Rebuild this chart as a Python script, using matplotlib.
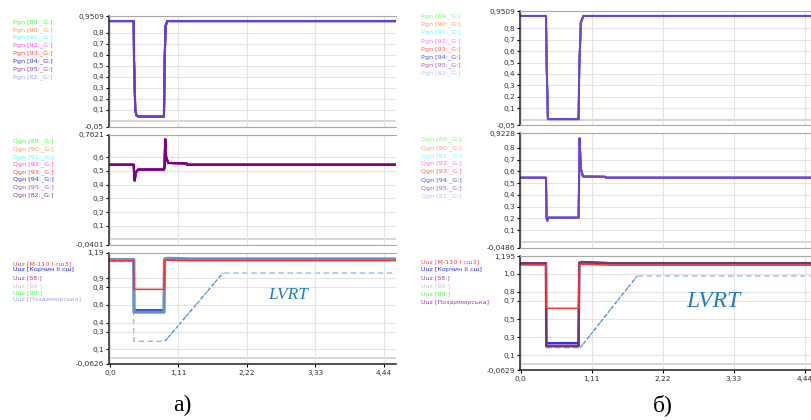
import matplotlib
matplotlib.use("Agg")
import matplotlib.pyplot as plt

# ---- data: panel a) ----
t_pa = [0, 0.385, 0.39, 0.41, 0.43, 0.46, 0.875, 0.885, 0.90, 0.93, 4.7]
p_a = [0.905, 0.905, 0.55, 0.10, 0.05, 0.04, 0.04, 0.50, 0.86, 0.905, 0.905]

t_qa = [0, 0.385, 0.39, 0.40, 0.42, 0.46, 0.875, 0.885, 0.895, 0.91, 0.945, 1.24, 1.25, 4.7]
q_a = [0.545, 0.545, 0.50, 0.43, 0.49, 0.51, 0.51, 0.53, 0.73, 0.60, 0.558, 0.555, 0.545, 0.545]

t_ua = [0, 0.385, 0.39, 0.875, 0.885, 0.93, 1.30, 4.7]
u_a_red = [1.098, 1.098, 0.776, 0.776, 1.10, 1.105, 1.10, 1.10]
u_a_blue = [1.108, 1.108, 0.54, 0.54, 1.115, 1.12, 1.115, 1.115]
u_a_pur = [1.108, 1.108, 0.54, 0.54, 1.115, 1.12, 1.115, 1.115]
u_a_grey = [1.108, 1.108, 0.53, 0.53, 1.115, 1.12, 1.115, 1.115]
u_a_green = [1.112, 1.112, 0.525, 0.525, 1.12, 1.13, 1.12, 1.12]
u_a_pozd = [1.11, 1.11, 0.52, 0.52, 1.115, 1.125, 1.118, 1.118]

lvrt_ta = [0, 0.385, 0.385, 0.89, 1.83, 4.7]
lvrt_a = [1.09, 1.09, 0.19, 0.19, 0.96, 0.96]

# ---- data: panel б) ----
t_pb = [0, 0.395, 0.405, 0.425, 0.905, 0.915, 0.94, 0.98, 4.6]
p_b = [0.908, 0.908, 0.50, 0.005, 0.005, 0.45, 0.85, 0.908, 0.908]

t_qb = [0, 0.395, 0.405, 0.415, 0.435, 0.905, 0.912, 0.92, 0.94, 0.975, 1.32, 1.33, 4.6]
q_b = [0.545, 0.545, 0.20, 0.18, 0.205, 0.205, 0.50, 0.88, 0.62, 0.555, 0.553, 0.545, 0.545]

t_ub = [0, 0.395, 0.40, 0.905, 0.915, 0.95, 1.40, 4.6]
u_b_red = [1.097, 1.097, 0.618, 0.618, 1.10, 1.105, 1.095, 1.095]
u_b_blue = [1.11, 1.11, 0.235, 0.235, 1.115, 1.125, 1.115, 1.115]
u_b_pur = [1.112, 1.112, 0.21, 0.21, 1.118, 1.125, 1.115, 1.115]
u_b_grey = [1.112, 1.112, 0.205, 0.205, 1.118, 1.125, 1.115, 1.115]
u_b_green = [1.115, 1.115, 0.20, 0.20, 1.12, 1.132, 1.118, 1.118]
u_b_pozd = [1.115, 1.115, 0.20, 0.20, 1.12, 1.128, 1.116, 1.116]

lvrt_tb = [0, 0.40, 0.40, 0.93, 1.82, 4.6]
lvrt_b = [1.10, 1.10, 0.183, 0.183, 0.975, 0.975]

# ---- legends / ticks ----
pgn_a_names = ["Pgn [89:_G:]", "Pgn [90:_G:]", "Pgn [91:_G:]", "Pgn [92:_G:]",
               "Pgn [93:_G:]", "Pgn [94:_G:]", "Pgn [95:_G:]", "Pgn [82:_G:]"]
qgn_a_names = [n.replace("Pgn", "Qgn") for n in pgn_a_names]
uuz_names = ["Uuz [M-110 I сш3]", "Uuz [Корчин II сш]", "Uuz [88:]",
             "Uuz [89:]", "Uuz [90:]", "Uuz [Поздимирська]"]
gen_cols_a = ["#3cff3c", "#ff9640", "#40ffff", "#ff40ff", "#ff4040", "#3030ff", "#9a3c9a", "#a0a0ff"]
qgen_cols_a = ["#3cff3c", "#ff9640", "#40ffff", "#ff40ff", "#ff4040", "#3030ff", "#a050a0", "#8040a0"]
gen_cols_b = ["#70ff70", "#ffa060", "#60ffff", "#ff70ff", "#ff6060", "#5050ff", "#a060b0", "#c0c0ff"]
uuz_cols_a = ["#ff4040", "#2020ff", "#a040a0", "#c8c8c8", "#40ff40", "#a0a0ff"]
uuz_cols_b = ["#ff4040", "#3030ff", "#a040a0", "#c8c8c8", "#40ff40", "#a040b0"]

yt_a1 = [-0.05, 0.1, 0.2, 0.3, 0.4, 0.5, 0.6, 0.7, 0.8, 0.9509]
yt_a2 = [-0.0401, 0.1, 0.2, 0.3, 0.4, 0.5, 0.6, 0.7621]
yt_a3 = [-0.0626, 0.1, 0.3, 0.4, 0.6, 0.8, 0.9, 1.19]
yt_b1 = [-0.05, 0.1, 0.2, 0.3, 0.4, 0.5, 0.6, 0.7, 0.8, 0.9509]
yt_b2 = [-0.0486, 0.1, 0.2, 0.3, 0.4, 0.5, 0.6, 0.7, 0.8, 0.9228]
yt_b3 = [-0.0629, 0.1, 0.3, 0.5, 0.7, 0.8, 1.0, 1.195]
xt = [0.0, 1.11, 2.22, 3.33, 4.44]
xt_labels = ["0,0", "1,11", "2,22", "3,33", "4,44"]


def lab(v):
    s = ("%.4f" % v).rstrip("0")
    if s.endswith("."):
        s += "0"
    return s.replace(".", ",")


fig = plt.figure(figsize=(8.12, 4.2), dpi=100)


def setup(rect, yt, xlim, bottom=False):
    ax = fig.add_axes(rect)
    ax.set_xlim(*xlim)
    ax.set_ylim(yt[0], yt[-1])
    ax.set_yticks(yt)
    ax.set_yticklabels([lab(v) for v in yt])
    ax.set_xticks(xt)
    ax.grid(True, color="#e4e4e4", lw=0.8)
    ax.axhline(0, color="#cfcfcf", lw=1.2, zorder=0.5)
    for s in ["top", "bottom"]:
        ax.spines[s].set_color("#a8a8a8")
    ax.spines["right"].set_visible(False)
    ax.spines["left"].set_color("#222222")
    ax.spines["left"].set_linewidth(1.1)
    ax.tick_params(axis="y", length=2.5, width=0.8, labelsize=5.3, pad=1, labelcolor="#333333")
    if bottom:
        ax.spines["bottom"].set_color("#222222")
        ax.spines["bottom"].set_linewidth(1.1)
        ax.set_xticklabels(xt_labels)
        ax.tick_params(axis="x", length=2.5, width=0.8, labelsize=5.3, pad=2, labelcolor="#333333")
    else:
        ax.tick_params(axis="x", length=0, labelbottom=False)
    return ax


def legend(x, ys, names, cols):
    for y, n, c in zip(ys, names, cols):
        fig.text(x / 812, 1 - y / 420, n, color=c, fontsize=4.6, va="center", ha="left")


xa = (-0.016, 4.634)
xb = (-0.011, 4.554)
a1 = setup([0.1342, 0.6988, 0.3534, 0.2631], yt_a1, xa)
a2 = setup([0.1342, 0.4167, 0.3534, 0.2619], yt_a2, xa)
a3 = setup([0.1342, 0.1340, 0.3534, 0.2645], yt_a3, xa, bottom=True)
b1 = setup([0.6404, 0.7014, 0.3596, 0.2724], yt_b1, xb)
b2 = setup([0.6404, 0.4107, 0.3596, 0.2719], yt_b2, xb)
b3 = setup([0.6404, 0.1190, 0.3596, 0.2714], yt_b3, xb, bottom=True)

# P, Q lines (all generators follow the same trajectory)
for i, c in enumerate(gen_cols_a):
    a1.plot(t_pa, p_a, color=c, lw=1.4)
a1.plot(t_pa, p_a, color="#3a3aff", lw=1.6)
a1.plot(t_pa, p_a, color="#9a3c9a", lw=1.3, alpha=0.55)

for c in qgen_cols_a:
    a2.plot(t_qa, q_a, color=c, lw=1.4)
a2.plot(t_qa, q_a, color="#800080", lw=1.7)

for c in gen_cols_b:
    b1.plot(t_pb, p_b, color=c, lw=1.3)
b1.plot(t_pb, p_b, color="#4a4aff", lw=1.5)
b1.plot(t_pb, p_b, color="#9a3c9a", lw=1.2, alpha=0.5)

for c in gen_cols_b:
    b2.plot(t_qb, q_b, color=c, lw=1.3)
b2.plot(t_qb, q_b, color="#4a4aff", lw=1.5)
b2.plot(t_qb, q_b, color="#9a3c9a", lw=1.2, alpha=0.5)

# LVRT characteristics
for ax, lt, lv in [(a3, lvrt_ta, lvrt_a), (b3, lvrt_tb, lvrt_b)]:
    ax.plot(lt, lv, color="#94bbe6", lw=1.0, ls=(0, (4, 2.5)), zorder=1.5)
    ax.plot(lt[3:5], lv[3:5], color="#4a8ad0", lw=0.8, ls=(0, (3, 2)), zorder=1.6)

# voltages a)
a3.plot(t_ua, u_a_grey, color="#c8c8c8", lw=1.2)
a3.plot(t_ua, u_a_green, color="#40ff40", lw=1.2)
a3.plot(t_ua, u_a_pur, color="#a040a0", lw=1.2)
a3.plot(t_ua, u_a_blue, color="#1010ff", lw=1.3)
a3.plot(t_ua, u_a_pozd, color="#6a8fc6", lw=2.4)
a3.plot(t_ua, u_a_red, color="#ff3030", lw=1.1)

# voltages б)
b3.plot(t_ub, u_b_grey, color="#c8c8c8", lw=1.2)
b3.plot(t_ub, u_b_green, color="#30c030", lw=1.3)
b3.plot(t_ub, u_b_blue, color="#3030ff", lw=1.5)
b3.plot(t_ub, u_b_pur, color="#a040a0", lw=1.3)
b3.plot(t_ub, u_b_pozd, color="#6e3c72", lw=1.8)
b3.plot(t_ub, u_b_red, color="#ff3030", lw=1.1)

a3.text(2.88, 0.71, "LVRT", color="#1f7cc4", fontsize=12.5, style="italic",
        family="Liberation Serif", ha="center", va="center")
b3.text(3.01, 0.69, "LVRT", color="#1f7cc4", fontsize=17, style="italic",
        family="Liberation Serif", ha="center", va="center")

# legends
legend(13, [22, 30, 37.5, 45.5, 53.3, 61.3, 69.3, 77], pgn_a_names, gen_cols_a)
legend(13, [141, 148.7, 156.7, 164, 171.7, 179.3, 187.3, 195], qgn_a_names, qgen_cols_a)
legend(13, [264, 270, 278, 286, 293, 300], uuz_names, uuz_cols_a)
legend(421, [16, 24, 32.3, 40.7, 49, 56.7, 65, 73], pgn_a_names, gen_cols_b)
legend(421, [139.3, 147.7, 155.7, 163.3, 171.3, 179.7, 188, 196], qgn_a_names, gen_cols_b)
legend(421, [261.7, 270, 278, 286, 294, 302.3], uuz_names, uuz_cols_b)

fig.text(182 / 812, 1 - 405 / 420, "а)", fontsize=17, family="Liberation Serif",
         ha="center", va="center")
fig.text(663 / 812, 1 - 405 / 420, "б)", fontsize=17, family="Liberation Serif",
         ha="center", va="center")

fig.savefig("out.png", dpi=100)
